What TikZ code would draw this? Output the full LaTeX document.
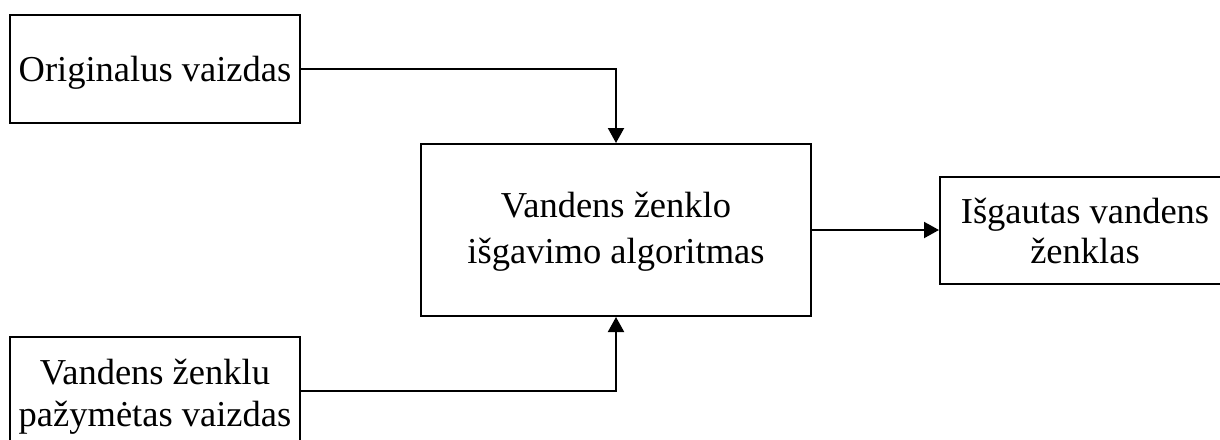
\documentclass[tikz,border=0pt]{standalone}
\usepackage{fontspec}
\setmainfont{Liberation Serif}
\usetikzlibrary{arrows.meta}

\begin{document}
\begin{tikzpicture}[x=1pt, y=-1pt,
  block/.style={draw, line width=2pt, inner sep=2pt, align=center,
    font=\fontsize{36.5}{42}\selectfont},
  flow/.style={line width=2pt, -{Triangle[width=16pt,length=15pt]}}]
  \useasboundingbox (0,0) rectangle (1220,439);
  \clip (0,0) rectangle (1220,439);

  % input and output blocks
  \node[block, minimum width=290pt, minimum height=108pt, text depth=0pt]
    (orig) at (155,69) {Originalus vaizdas};
  \node[block, minimum width=390pt, minimum height=172pt,
    text height=70.6pt, text depth=4pt,
    font=\fontsize{36.5}{46}\selectfont]
    (alg) at (616,230) {Vandens ženklo\\išgavimo algoritmas};
  \node[block, minimum width=290pt, minimum height=107pt,
    font=\fontsize{36.5}{40}\selectfont]
    (out) at (1085,230.5) {Išgautas vandens\\ženklas};
  \node[block, minimum width=290pt, minimum height=108pt,
    text height=70pt, text depth=0pt]
    (marked) at (155,391) {Vandens ženklu\\pažymėtas vaizdas};

  % connectors
  \draw[flow] (orig.east) -| (alg.north);
  \draw[flow] (marked.east) -| (alg.south);
  \draw[flow] (alg.east) -- (alg.east -| out.west);
\end{tikzpicture}
\end{document}
